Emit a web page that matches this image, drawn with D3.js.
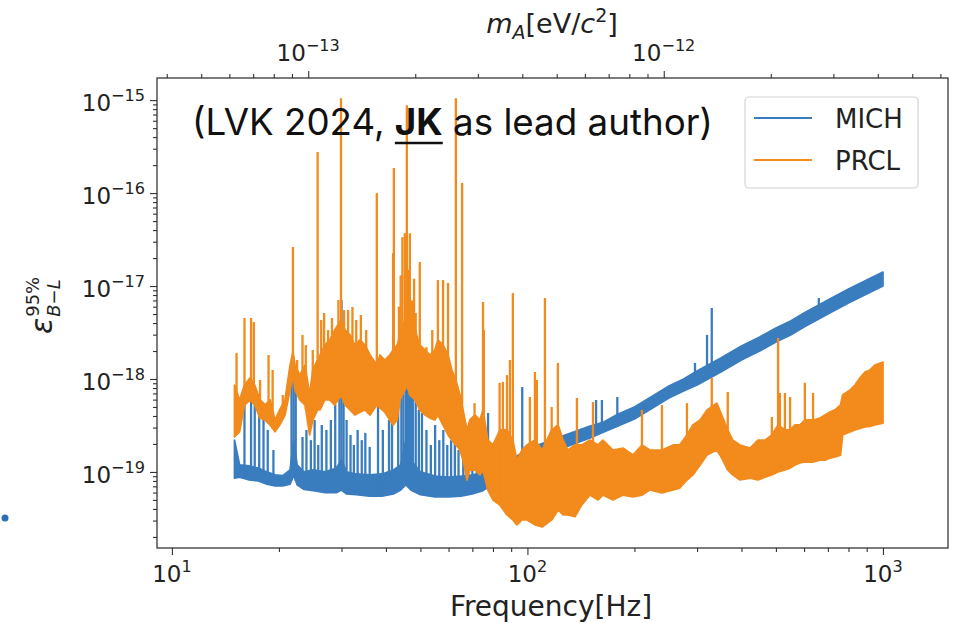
<!DOCTYPE html>
<html><head><meta charset="utf-8">
<script src="https://cdn.jsdelivr.net/npm/d3@7"></script>
<style>body{margin:0;background:#fff}svg{display:block}</style>
</head><body>
<svg id="c" width="956" height="623"></svg>
<script>
// ---------- data ----------
const seriesNames = ["MICH", "PRCL"];
const xTicks = [10, 100, 1000];
const xTickExp = ["1", "2", "3"];
const yTicks = [1e-19, 1e-18, 1e-17, 1e-16, 1e-15];
const yTickExp = ["\u221219", "\u221218", "\u221217", "\u221216", "\u221215"];
const topTicks = [1e-13, 1e-12];
const topTickExp = ["\u221213", "\u221212"];

// MICH: dense bed (low / high edge) and isolated spikes
const michBandFreq = [15,15.5,16.5,17.5,18.5,19.5,20.5,21.5,22,22.5,23.5,25,27,29,30,31,33,36,39,42,44,45.5,47,50,55,60,65,70,75,80,90,100,115,130,150,164,180,200,225,250,275,300,350,400,450,500,550,600,700,800,900,1000];
const michBandLow = [8.6e-20,8.8e-20,8.2e-20,8.0e-20,7.4e-20,7.1e-20,7.1e-20,7.4e-20,9.3e-20,7.3e-20,6.5e-20,6.3e-20,6.0e-20,6.0e-20,6.4e-20,5.8e-20,5.7e-20,5.5e-20,5.5e-20,5.8e-20,6.4e-20,7.3e-20,6.4e-20,5.7e-20,5.4e-20,5.4e-20,5.5e-20,5.8e-20,6.3e-20,7.4e-20,1.0e-19,1.31e-19,1.6e-19,1.9e-19,2.32e-19,2.7e-19,3.12e-19,3.71e-19,4.88e-19,6.25e-19,7.43e-19,8.62e-19,1.19e-18,1.6e-18,2.0e-18,2.5e-18,2.98e-18,3.62e-18,5.0e-18,6.57e-18,8.2e-18,1.0e-17];
const michBandHigh = [2.2e-19,1.19e-19,1.16e-19,1.1e-19,1.0e-19,9.3e-20,9.1e-20,1.05e-19,2.2e-19,1.19e-19,1.0e-19,1.05e-19,1.0e-19,1.1e-19,1.34e-19,1.0e-19,9.5e-20,9.3e-20,9.5e-20,1.05e-19,1.19e-19,2.2e-19,1.34e-19,1.0e-19,9.0e-20,8.8e-20,9.0e-20,9.3e-20,9.8e-20,1.0e-19,1.34e-19,1.77e-19,2.15e-19,2.56e-19,3.12e-19,3.44e-19,4.2e-19,5.0e-19,6.57e-19,8.4e-19,1.0e-18,1.22e-18,1.68e-18,2.26e-18,2.83e-18,3.53e-18,4.2e-18,5.12e-18,7.07e-18,9.3e-18,1.16e-17,1.41e-17];
const michSpikeFreq = [16.0,16.7,17.1,17.6,18.1,18.6,19.3,21.7,22.0,22.3,23.3,23.9,24.6,25.2,25.8,26.4,27.2,28.0,28.8,29.6,30.0,30.4,31.0,31.8,32.5,33.3,34.2,35.0,36.0,38.0,39.2,40.8,41.6,43.3,44.2,44.8,45.5,45.9,46.4,47.0,47.6,48.5,49.5,50.5,52,53.5,55,56.5,58,59.5,61,62.5,64,66,68,70,72,73.7,77.5,96.7,156,162,179,296,320,330,660];
const michSpikeTop = [5.95e-19,6.41e-19,5.25e-19,4.31e-19,4.65e-19,2.83e-19,1.72e-19,9.76e-19,1.72e-18,7.6e-19,2.38e-19,2.83e-19,2.2e-19,3.62e-19,1.95e-19,3.2e-19,2.83e-19,3.62e-19,5.25e-19,9.76e-19,7.07e-18,1.6e-18,3.62e-19,2.5e-19,1.95e-19,2.83e-19,2.2e-19,2.63e-19,1.86e-19,5.0e-19,2.83e-19,3.62e-19,4.31e-19,5.95e-19,9.76e-19,1.6e-18,2.98e-18,3.36e-18,2.05e-18,9.76e-19,6.73e-19,5.95e-19,4.65e-19,4.31e-19,2.83e-19,1.95e-19,3.2e-19,2.2e-19,2.83e-19,1.95e-19,2.2e-19,3.2e-19,1.72e-19,1.95e-19,1.52e-19,2.2e-19,1.72e-19,1.52e-19,4.31e-19,8.2e-19,5.95e-19,5.95e-19,6.41e-19,1.49e-18,2.98e-18,5.8e-18,7.43e-18];

// PRCL: dense bed (low / high edge) and isolated spikes
const prclBandFreq = [15,15.5,16,16.6,17.1,17.7,18.3,18.9,19.5,20.1,20.8,21.5,21.9,22.2,22.9,23.7,24.4,24.9,25.7,26.1,26.9,27.8,28.7,29.9,30.7,31.7,32.7,33.8,34.9,36.1,37.7,38.5,39.7,41,41.9,43,43.8,45.2,45.8,46.7,48.3,49.8,51.5,53.2,54.9,56,57.9,59.8,61.3,62.9,64.6,65.9,67.6,68.9,71.2,73.5,75,77.4,80,83.7,87.6,91,93.4,96.5,99.7,105,110,117,122,126,130,136,142,150,158,163,174,186,198,210,221,239,257,268,281,292,306,320,341,352,366,378,396,423,445,466,487,507,530,548,566,584,603,636,665,687,709,733,760,770,808,834,862,890,919,949,1000];
const prclBandLow = [2.38e-19,2.7e-19,5.25e-19,5.95e-19,5.25e-19,3.8e-19,3.62e-19,3.2e-19,2.7e-19,3.2e-19,4.1e-19,7.6e-19,1.1e-18,7.6e-19,5.95e-19,5.25e-19,2.5e-19,3.62e-19,4.65e-19,4.65e-19,5.95e-19,5.95e-19,5.25e-19,6.73e-19,5.25e-19,4.65e-19,4.1e-19,4.4e-19,4.65e-19,4.1e-19,5.25e-19,4.88e-19,4.4e-19,3.62e-19,3.2e-19,3.62e-19,5.95e-19,7.6e-19,8.6e-19,6.73e-19,5.95e-19,4.65e-19,4.1e-19,3.8e-19,3.62e-19,4.1e-19,3.2e-19,2.5e-19,2.2e-19,1.95e-19,1.72e-19,1.34e-19,8.2e-20,1.05e-19,1.05e-19,9.3e-20,1.05e-19,6.4e-20,5.0e-20,4.4e-20,3.45e-20,3.05e-20,2.7e-20,3.05e-20,3.05e-20,2.7e-20,2.56e-20,3.05e-20,3.9e-20,3.45e-20,3.45e-20,3.3e-20,4.4e-20,5.65e-20,5.0e-20,5.65e-20,5.0e-20,5.65e-20,5.4e-20,5.65e-20,6.4e-20,5.95e-20,6.4e-20,6.7e-20,8.2e-20,9.3e-20,1.19e-19,1.52e-19,1.72e-19,1.41e-19,1.05e-19,9.3e-20,8.2e-20,8.6e-20,8.2e-20,8.8e-20,9.3e-20,1.0e-19,1.05e-19,1.1e-19,1.19e-19,1.25e-19,1.28e-19,1.28e-19,1.34e-19,1.34e-19,1.41e-19,1.45e-19,1.52e-19,2.5e-19,2.7e-19,2.83e-19,2.95e-19,3.05e-19,3.1e-19,3.2e-19,3.36e-19];
const prclBandHigh = [8.6e-19,5.95e-19,8.6e-19,1.03e-18,8.6e-19,5.95e-19,5.25e-19,5.95e-19,3.62e-19,4.65e-19,5.95e-19,1.41e-18,1.95e-18,1.41e-18,1.1e-18,1.41e-18,6.73e-19,1.25e-18,1.6e-18,1.81e-18,2.32e-18,2.63e-18,3.36e-18,4.31e-18,3.36e-18,2.98e-18,2.32e-18,2.63e-18,2.32e-18,1.81e-18,1.41e-18,1.81e-18,1.6e-18,1.81e-18,2.05e-18,2.32e-18,2.9e-18,4.3e-18,4.5e-18,3.4e-18,3.36e-18,2.32e-18,2.05e-18,1.81e-18,2.05e-18,2.63e-18,2.32e-18,1.81e-18,1.25e-18,9.76e-19,6.73e-19,4.65e-19,2.83e-19,3.62e-19,4.1e-19,3.62e-19,4.65e-19,2.2e-19,1.95e-19,2.83e-19,2.83e-19,2.2e-19,1.34e-19,1.72e-19,1.95e-19,2.2e-19,1.72e-19,2.83e-19,3.2e-19,2.2e-19,1.72e-19,1.95e-19,1.95e-19,2.2e-19,1.95e-19,2.2e-19,1.72e-19,1.8e-19,1.52e-19,1.95e-19,1.72e-19,1.72e-19,1.95e-19,1.95e-19,2.5e-19,3.2e-19,3.62e-19,4.65e-19,5.5e-19,4.1e-19,2.83e-19,2.2e-19,1.95e-19,1.8e-19,2.2e-19,2.2e-19,2.5e-19,3.2e-19,2.83e-19,2.83e-19,3.2e-19,3.2e-19,3.62e-19,3.62e-19,3.8e-19,4.1e-19,4.4e-19,4.65e-19,5.25e-19,6.73e-19,7.6e-19,8.6e-19,1.03e-18,1.19e-18,1.25e-18,1.41e-18,1.52e-18];
const prclSpikeFreq = [15.2,16.0,16.7,17.0,17.7,18.7,19.2,20.5,21.9,22.5,23.3,23.8,24.9,25.7,26.3,26.8,27.5,28.2,29.4,29.9,30.5,31.3,32.2,33.0,34.0,35.2,37.7,41.9,42.1,43.5,44.0,44.5,45.2,45.8,46.2,46.7,47.3,48.0,48.5,49.8,52.0,54.0,56.0,57.9,59.8,62.9,65.5,71.0,75.0,75.4,83.5,85.3,87.6,89.3,91.0,101.6,105,106.3,112,117,121.8,137.8,152.9,210,239,281,330,366,487,507,513,530,548,603,636];
const prclSpikeTop = [1.9e-18,4.53e-18,4.53e-18,4.1e-18,9.76e-19,1.81e-18,1.25e-18,6.73e-19,2.63e-17,1.6e-18,2.98e-18,2.32e-18,2.05e-18,2.76e-16,4.31e-18,5.13e-18,3.36e-18,4.53e-18,7.07e-18,1.05e-15,5.52e-18,5.52e-18,5.95e-18,4.31e-18,4.88e-18,3.36e-18,1.0e-16,2.26e-17,1.86e-16,6.0e-18,1.3e-17,3.36e-17,3.7e-17,8.8e-16,1.5e-17,3.7e-17,7.0e-18,1.2e-17,5.13e-18,1.81e-17,2.2e-18,3.36e-18,1.16e-17,1.16e-17,1.08e-17,1.05e-15,1.28e-16,5.5e-19,6.73e-18,3.36e-18,9.1e-19,9.3e-19,1.1e-18,1.6e-18,8.4e-18,6.41e-19,1.19e-18,9.76e-19,7.43e-18,5.0e-19,1.49e-18,6.25e-19,5.65e-19,4.65e-19,5.25e-19,5.5e-19,1.03e-18,7.25e-19,3.9e-19,2.76e-18,7.07e-19,7.07e-19,6.41e-19,9.1e-19,7.07e-19];

const colors = ["#3a7dbf", "#f28a1c"];
const planckEVs = 4.135667e-15; // converts Hz to eV/c^2

// ---------- layout ----------
const m = {l: 157, r: 948, t: 78, b: 548};
const svg = d3.select("#c");
const txt = "#222";
const x = d3.scaleLog().domain([9.08, 1524]).range([m.l, m.r]);
const y = d3.scaleLog().domain([1.52e-20, 1.73e-15]).range([m.b, m.t]);
const xTop = d3.scaleLog().domain([9.08 * planckEVs, 1524 * planckEVs]).range([m.l, m.r]);

svg.append("defs").append("clipPath").attr("id", "pc")
  .append("rect").attr("x", m.l).attr("y", m.t).attr("width", m.r - m.l).attr("height", m.b - m.t);
const plot = svg.append("g").attr("clip-path", "url(#pc)");

function interpLog(F, V, f) {
  let i = d3.bisectRight(F, f) - 1;
  i = Math.max(0, Math.min(F.length - 2, i));
  const t = (Math.log(f) - Math.log(F[i])) / (Math.log(F[i + 1]) - Math.log(F[i]));
  return Math.exp(Math.log(V[i]) + t * (Math.log(V[i + 1]) - Math.log(V[i])));
}
function drawSeries(F, L, Hh, SF, ST, color) {
  const g = plot.append("g");
  const band = F.map((f, i) => ({f, lo: L[i], hi: Hh[i]}));
  const area = d3.area().x(d => x(d.f)).y0(d => y(d.lo)).y1(d => y(d.hi));
  g.append("path").datum(band).attr("d", area)
    .attr("fill", color).attr("stroke", color).attr("stroke-width", 1.8).attr("stroke-linejoin", "round");
  const sp = SF.map((f, i) => ({f, top: ST[i], base: interpLog(F, L, f)}));
  g.selectAll("line").data(sp).join("line")
    .attr("x1", d => x(d.f)).attr("x2", d => x(d.f))
    .attr("y1", d => y(d.base)).attr("y2", d => y(d.top))
    .attr("stroke", color).attr("stroke-width", 2.3);
}
drawSeries(michBandFreq, michBandLow, michBandHigh, michSpikeFreq, michSpikeTop, colors[0]);
drawSeries(prclBandFreq, prclBandLow, prclBandHigh, prclSpikeFreq, prclSpikeTop, colors[1]);

// ---------- axes ----------
const isMajor = v => Math.abs(Math.log10(v) - Math.round(Math.log10(v))) < 1e-6;
const within = (s, v) => { const p = s(v); return p >= Math.min(...s.range()) - 0.5 && p <= Math.max(...s.range()) + 0.5; };
const tickStyle = g => { g.select(".domain").remove(); g.selectAll("line").attr("stroke", "#333").attr("stroke-width", 1.1); };
const xMinor = x.ticks(20).filter(v => !isMajor(v) && within(x, v));
const yMinor = y.ticks(20).filter(v => !isMajor(v) && within(y, v));
const tMinor = xTop.ticks(20).filter(v => !isMajor(v) && within(xTop, v));

svg.append("g").attr("transform", `translate(0,${m.b})`).call(d3.axisBottom(x).tickValues(xTicks).tickSize(7).tickFormat(() => "")).call(tickStyle);
svg.append("g").attr("transform", `translate(0,${m.b})`).call(d3.axisBottom(x).tickValues(xMinor).tickSize(4).tickFormat(() => "")).call(tickStyle);
svg.append("g").attr("transform", `translate(${m.l},0)`).call(d3.axisLeft(y).tickValues(yTicks).tickSize(7).tickFormat(() => "")).call(tickStyle);
svg.append("g").attr("transform", `translate(${m.l},0)`).call(d3.axisLeft(y).tickValues(yMinor).tickSize(4).tickFormat(() => "")).call(tickStyle);
svg.append("g").attr("transform", `translate(0,${m.t})`).call(d3.axisTop(xTop).tickValues(topTicks).tickSize(7).tickFormat(() => "")).call(tickStyle);
svg.append("g").attr("transform", `translate(0,${m.t})`).call(d3.axisTop(xTop).tickValues(tMinor).tickSize(4).tickFormat(() => "")).call(tickStyle);

svg.append("rect").attr("x", m.l).attr("y", m.t).attr("width", m.r - m.l).attr("height", m.b - m.t)
  .attr("fill", "none").attr("stroke", "#262626").attr("stroke-width", 1.2);

const FS = 23;
function supLabel(px, py, exp, anchor) {
  const t = svg.append("text").attr("x", px).attr("y", py).attr("text-anchor", anchor)
    .attr("font-family", "DejaVu Sans").attr("font-size", FS).attr("fill", txt);
  t.append("tspan").text("10");
  t.append("tspan").attr("dy", -10).attr("font-size", FS * 0.7).text(exp);
}
xTicks.forEach((v, i) => supLabel(x(v), m.b + 34, xTickExp[i], "middle"));
yTicks.forEach((v, i) => supLabel(m.l - 12, y(v) + 11, yTickExp[i], "end"));
topTicks.forEach((v, i) => supLabel(xTop(v), m.t - 17, topTickExp[i], "middle"));

// axis titles
svg.append("text").attr("x", 551).attr("y", 616).attr("text-anchor", "middle")
  .attr("font-family", "DejaVu Sans").attr("font-size", 28).attr("fill", txt).text("Frequency[Hz]");

const tt = svg.append("text").attr("x", 552).attr("y", 33).attr("text-anchor", "middle")
  .attr("font-family", "DejaVu Sans").attr("font-size", 27).attr("fill", txt);
tt.append("tspan").attr("font-style", "italic").text("m");
tt.append("tspan").attr("font-style", "italic").attr("font-size", 19).attr("dy", 6).text("A");
tt.append("tspan").attr("dy", -6).text("[eV/");
tt.append("tspan").attr("font-style", "italic").text("c");
tt.append("tspan").attr("font-size", 19).attr("dy", -11).text("2");
tt.append("tspan").attr("dy", 11).text("]");

const yl = svg.append("g").attr("transform", "translate(52,306) rotate(-90)")
  .attr("font-family", "DejaVu Sans").attr("fill", txt);
const eps = yl.append("text").attr("x", -28).attr("y", 0).attr("font-size", 30).attr("font-style", "italic").text("\u03b5");
const ew = eps.node().getComputedTextLength();
yl.append("text").attr("x", -28 + ew + 1).attr("y", -13).attr("font-size", 18).text("95%");
const sub = yl.append("text").attr("x", -28 + ew + 1).attr("y", 8).attr("font-size", 18);
sub.append("tspan").attr("font-style", "italic").text("B");
sub.append("tspan").text("\u2212");
sub.append("tspan").attr("font-style", "italic").text("L");

// annotation
const ann = svg.append("text").attr("x", 192).attr("y", 135)
  .attr("font-family", "Inter").attr("font-size", 30).attr("fill", "#111");
ann.append("tspan").text("(LVK 2024, ");
ann.append("tspan").attr("font-weight", 700).text("JK");
ann.append("tspan").text(" as lead author)");
const aw = ann.node().getComputedTextLength();
ann.attr("font-size", 30 * 521 / aw);
const jx0 = ann.node().getStartPositionOfChar(11).x;
const jx1 = ann.node().getEndPositionOfChar(12).x;
svg.append("line").attr("x1", jx0).attr("x2", jx1).attr("y1", 143).attr("y2", 143)
  .attr("stroke", "#111").attr("stroke-width", 2.6);

// legend
const lg = svg.append("g");
lg.append("rect").attr("x", 745).attr("y", 97).attr("width", 173).attr("height", 91).attr("rx", 4)
  .attr("fill", "#fff").attr("fill-opacity", 0.85).attr("stroke", "#d4d4d4").attr("stroke-width", 1.2);
seriesNames.forEach((n, i) => {
  const ly = 118 + i * 42;
  lg.append("line").attr("x1", 754).attr("x2", 812).attr("y1", ly).attr("y2", ly)
    .attr("stroke", colors[i]).attr("stroke-width", 2.2);
  lg.append("text").attr("x", 835).attr("y", ly + 10).attr("font-family", "DejaVu Sans")
    .attr("font-size", 26).attr("fill", txt).text(n);
});

// slide bullet
svg.append("circle").attr("cx", 5).attr("cy", 518).attr("r", 3.5).attr("fill", "#2f6db5");
</script>
</body></html>
